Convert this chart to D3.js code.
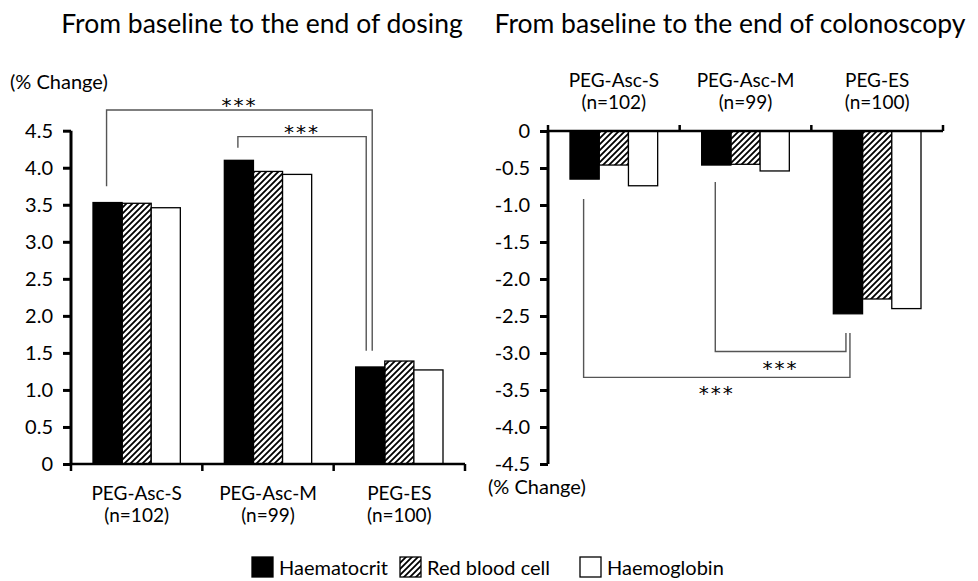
<!DOCTYPE html>
<html>
<head>
<meta charset="utf-8">
<script src="https://cdn.jsdelivr.net/npm/d3@7"></script>
<style>
  body { margin: 0; background: #fff; }
  svg { font-family: Lato, "Open Sans", sans-serif; }
</style>
</head>
<body>
<svg id="chart" width="978" height="581"></svg>
<script>
// groups and series
const groups = ['PEG-Asc-S', 'PEG-Asc-M', 'PEG-ES'];
const groupN = ['(n=102)', '(n=99)', '(n=100)'];
const series = ['Haematocrit', 'Red blood cell', 'Haemoglobin'];

// % change, baseline -> end of dosing (rows = groups, cols = series)
const dosing = [
  [3.53, 3.52, 3.46],
  [4.10, 3.95, 3.91],
  [1.31, 1.39, 1.27]
];
// % change, baseline -> end of colonoscopy
const colonoscopy = [
  [-0.65, -0.46, -0.74],
  [-0.46, -0.45, -0.54],
  [-2.47, -2.27, -2.40]
];

const ticksDosing = [0, 0.5, 1.0, 1.5, 2.0, 2.5, 3.0, 3.5, 4.0, 4.5];
const ticksColon = [0, -0.5, -1.0, -1.5, -2.0, -2.5, -3.0, -3.5, -4.0, -4.5];

// significance brackets: from group -> to group, y values of start / bar / end
const bracketsDosing = [
  { from: 0, to: 2, y0: 3.75, y1: 4.78, y2: 1.53, dx: 2, label: '***' },
  { from: 1, to: 2, y0: 4.27, y1: 4.42, y2: 1.53, dx: -4, label: '***' }
];
const bracketsColon = [
  { from: 0, to: 2, y0: -0.92, y1: -3.33, y2: -2.73, dx: 2, label: '***' },
  { from: 1, to: 2, y0: -0.69, y1: -2.98, y2: -2.73, dx: -2, label: '***' }
];

const svg = d3.select('#chart');

const defs = svg.append('defs');
defs.append('pattern')
  .attr('id', 'hatch')
  .attr('patternUnits', 'userSpaceOnUse')
  .attr('width', 6)
  .attr('height', 6)
  .append('path')
  .attr('d', 'M-1,1 l2,-2 M0,6 l6,-6 M5,7 l2,-2')
  .attr('stroke', '#000')
  .attr('stroke-width', 1.8);

const fills = ['#000', 'url(#hatch)', '#fff'];
const fmt = d => (d === 0 ? '0' : d.toFixed(1));

function drawPanel({ left, right, data, ticks, domain, top, bottom, labelsBelow, brackets }) {
  const g = svg.append('g');

  const x0 = d3.scaleBand().domain(d3.range(groups.length)).range([left, right]);
  const x1 = d3.scaleBand().domain(d3.range(series.length))
    .range([22, x0.bandwidth() - 22]);
  const y = d3.scaleLinear().domain(domain).range([bottom, top]);
  const zeroY = y(0);

  // bars
  data.forEach((row, gi) => {
    g.selectAll(null)
      .data(row)
      .enter()
      .append('rect')
      .attr('x', (d, si) => x0(gi) + x1(si))
      .attr('width', x1.bandwidth())
      .attr('y', d => Math.min(y(d), zeroY))
      .attr('height', d => Math.abs(y(d) - zeroY))
      .attr('fill', (d, si) => fills[si])
      .attr('stroke', '#000')
      .attr('stroke-width', 1.3);
  });

  // y axis
  const yAxis = g.append('g')
    .attr('transform', `translate(${left},0)`)
    .call(d3.axisLeft(y).tickValues(ticks).tickFormat(fmt).tickSize(8).tickPadding(10));
  yAxis.select('.domain').attr('stroke-width', 3).attr('d', `M0,${y(domain[0])}V${y(domain[1])}`);
  yAxis.selectAll('.tick line').attr('stroke-width', 3);
  yAxis.selectAll('.tick text')
    .attr('font-size', 20)
    .attr('font-family', 'Lato, sans-serif')
    .attr('fill', '#000');

  // category axis
  const bounds = d3.range(groups.length + 1).map(i => left + i * x0.bandwidth());
  g.append('line')
    .attr('x1', left).attr('x2', right)
    .attr('y1', zeroY).attr('y2', zeroY)
    .attr('stroke', '#000').attr('stroke-width', 2.5);
  g.selectAll(null)
    .data(bounds)
    .enter()
    .append('line')
    .attr('x1', d => d).attr('x2', d => d)
    .attr('y1', zeroY)
    .attr('y2', zeroY + (labelsBelow ? 7 : -6))
    .attr('stroke', '#000').attr('stroke-width', 2.5);

  const labelY = labelsBelow ? zeroY + 36 : zeroY - 44;
  const $lab = g.selectAll(null)
    .data(groups)
    .enter()
    .append('text')
    .attr('x', (d, i) => x0(i) + x0.bandwidth() / 2)
    .attr('y', labelY)
    .attr('text-anchor', 'middle')
    .attr('font-size', 19);
  $lab.append('tspan').text(d => d);
  $lab.append('tspan')
    .attr('x', (d, i) => x0(i) + x0.bandwidth() / 2)
    .attr('dy', 22)
    .text((d, i) => groupN[i]);

  // brackets
  const cx = gi => x0(gi) + x1(0) + x1.bandwidth() / 2;
  brackets.forEach(b => {
    const xa = cx(b.from) - 1;
    const xb = cx(b.to) + b.dx;
    g.append('path')
      .attr('d', `M${xa},${y(b.y0)}V${y(b.y1)}H${xb}V${y(b.y2)}`)
      .attr('fill', 'none')
      .attr('stroke', '#555')
      .attr('stroke-width', 1.4);
    const above = b.y1 > b.y0;
    g.append('text')
      .attr('x', (xa + xb) / 2)
      .attr('y', y(b.y1) + (above ? 2 : 23))
      .attr('text-anchor', 'middle')
      .attr('font-family', '"DejaVu Sans", sans-serif')
      .attr('font-size', 20)
      .attr('letter-spacing', 2)
      .text(b.label);
  });

  return { x0, y };
}

drawPanel({
  left: 71, right: 465, data: dosing, ticks: ticksDosing,
  domain: [0, 4.5], top: 130.7, bottom: 464, labelsBelow: true,
  brackets: bracketsDosing
});
drawPanel({
  left: 548, right: 943, data: colonoscopy, ticks: ticksColon,
  domain: [-4.5, 0], top: 131, bottom: 464, labelsBelow: false,
  brackets: bracketsColon
});

// titles
svg.append('text')
  .attr('x', 262).attr('y', 33)
  .attr('text-anchor', 'middle')
  .attr('font-size', 26.5)
  .text('From baseline to the end of dosing');
svg.append('text')
  .attr('x', 730).attr('y', 33)
  .attr('text-anchor', 'middle')
  .attr('font-size', 26.5)
  .text('From baseline to the end of colonoscopy');

svg.append('text').attr('x', 10).attr('y', 89).attr('font-size', 20).text('(% Change)');
svg.append('text').attr('x', 488).attr('y', 494).attr('font-size', 20).text('(% Change)');

// legend
const legendX = [252, 400, 580];
const $leg = svg.append('g')
  .selectAll('g')
  .data(series)
  .enter()
  .append('g')
  .attr('transform', (d, i) => `translate(${legendX[i]},557)`);
$leg.append('rect')
  .attr('width', 21).attr('height', 20)
  .attr('fill', (d, i) => fills[i])
  .attr('stroke', '#000').attr('stroke-width', 1.3);
$leg.append('text')
  .attr('x', 27).attr('y', 18)
  .attr('font-size', 20)
  .text(d => d);
</script>
</body>
</html>
